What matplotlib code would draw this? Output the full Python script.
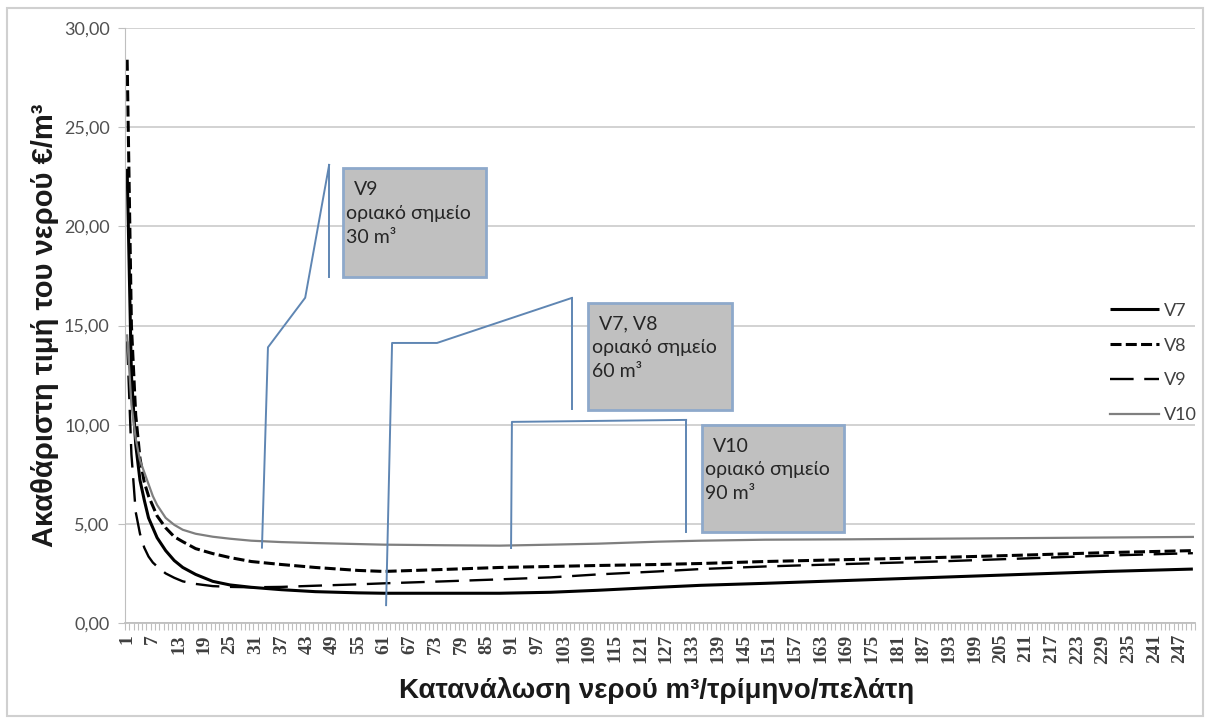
import numpy as np
import matplotlib.pyplot as plt
from matplotlib.patches import Rectangle

# sampled consumption (m3 / quarter / customer) and gross price (EUR/m3)
cons = [1, 2, 3, 4, 5, 6, 7, 8, 10, 12, 14, 17, 21, 25, 30, 37, 45, 55, 61,
        75, 88, 100, 111, 125, 135, 150, 170, 190, 210, 230, 250]
v7 = [22.9, 12.5, 9.0, 7.2, 6.2, 5.3, 4.8, 4.3, 3.65, 3.15, 2.8, 2.45, 2.1, 1.92, 1.8,
      1.68, 1.58, 1.52, 1.5, 1.5, 1.5, 1.55, 1.65, 1.8, 1.9, 2.0, 2.15, 2.3, 2.45, 2.6, 2.72]
v8 = [28.4, 15.0, 10.5, 8.3, 7.1, 6.4, 5.9, 5.4, 4.8, 4.35, 4.1, 3.75, 3.5, 3.3, 3.1,
      2.95, 2.8, 2.65, 2.6, 2.7, 2.8, 2.85, 2.9, 2.95, 3.0, 3.1, 3.2, 3.3, 3.42, 3.55, 3.65]
v9 = [14.2, 8.5, 5.6, 4.5, 3.8, 3.35, 3.05, 2.85, 2.5, 2.28, 2.1, 1.97, 1.86, 1.82, 1.8,
      1.82, 1.88, 1.95, 2.0, 2.1, 2.2, 2.3, 2.45, 2.6, 2.72, 2.85, 2.98, 3.1, 3.25, 3.4, 3.52]
v10 = [14.5, 11.0, 9.3, 8.2, 7.6, 7.0, 6.4, 5.95, 5.3, 4.95, 4.7, 4.5, 4.35, 4.25, 4.15,
       4.08, 4.03, 3.98, 3.95, 3.92, 3.9, 3.95, 4.0, 4.1, 4.15, 4.2, 4.22, 4.25, 4.28, 4.31, 4.34]

n_cat = 250
xticks = list(range(1, n_cat, 6))
yticks = [0, 5, 10, 15, 20, 25, 30]

# callouts: box (x0, x1, y0, y1), bar (x, y0, y1), leader line, text
callouts = [
    dict(box=(51.4, 84.8, 17.45, 22.95), bar=(48.2, 17.45, 23.1),
         line=([48.2, 42.6, 33.9, 32.5], [23.1, 16.4, 13.9, 3.8]),
         title="V9", val="30 m³"),
    dict(box=(108.7, 142.3, 10.74, 16.14), bar=(104.9, 10.79, 16.39),
         line=([104.9, 73.4, 62.9, 61.5], [16.39, 14.12, 14.12, 0.9]),
         title="V7, V8", val="60 m³"),
    dict(box=(135.3, 168.5, 4.59, 9.98), bar=(131.6, 4.59, 10.24),
         line=([131.6, 90.9, 90.7], [10.24, 10.14, 3.78]),
         title="V10", val="90 m³"),
]

fig = plt.figure(figsize=(12.06, 7.18), dpi=100)
ax = fig.add_axes([125 / 1206, 95 / 718, 1070 / 1206, 595 / 718])

ax.plot(cons, v7, color='black', lw=2.2, label='V7', solid_capstyle='butt')
ax.plot(cons, v8, color='black', lw=2.2, dashes=(3.6, 1.4), label='V8')
ax.plot(cons, v9, color='black', lw=1.7, dashes=(10, 4.5), label='V9')
ax.plot(cons, v10, color='#7f7f7f', lw=1.6, label='V10')

ax.set_xlim(0.5, n_cat + 0.5)
ax.set_ylim(0, 30)
ax.set_yticks(yticks)
ax.set_yticklabels([f"{v:.2f}".replace('.', ',') for v in yticks],
                   family=['Lato', 'DejaVu Sans'], fontsize=13, color='#505050')
ax.set_xticks(xticks)
ax.set_xticklabels([str(v) for v in xticks], rotation=90,
                   family=['Liberation Serif', 'DejaVu Serif'], fontsize=14,
                   color='#404040', fontweight='bold')
ax.set_xticks(np.arange(0.5, n_cat + 1, 1), minor=True)
ax.tick_params(axis='x', which='major', length=0, pad=8)
ax.tick_params(axis='x', which='minor', length=5, color='#bfbfbf', width=0.8)
ax.tick_params(axis='y', length=5, color='#bfbfbf', pad=6)

ax.grid(axis='y', color='#cfcfcf', lw=1.3)
ax.set_axisbelow(True)
for s in ['top', 'right']:
    ax.spines[s].set_visible(False)
ax.spines['left'].set_color('#bfbfbf')
ax.spines['bottom'].set_color('#bfbfbf')
ax.spines['bottom'].set_linewidth(1.3)

for c in callouts:
    x0, x1, y0, y1 = c['box']
    ax.add_patch(Rectangle((x0, y0), x1 - x0, y1 - y0, facecolor='#c0c0c0',
                           edgecolor='#8ea9cb', lw=2, zorder=5, clip_on=False))
    bx, by0, by1 = c['bar']
    ax.plot([bx, bx], [by0, by1], color='#5f86b3', lw=1.4, zorder=5)
    ax.plot(c['line'][0], c['line'][1], color='#5f86b3', lw=1.4, zorder=5)
    h = y1 - y0
    tf = dict(family=['Lato', 'Noto Sans', 'DejaVu Sans'], fontsize=14,
              color='#262626', va='center', zorder=6)
    ax.text(x0 + 2.6, y1 - 0.2 * h, c['title'], **tf)
    ax.text(x0 + 0.8, y1 - 0.42 * h, "οριακό σημείο", **tf)
    ax.text(x0 + 0.8, y1 - 0.64 * h, c['val'], **tf)

ax.legend(loc='center left', bbox_to_anchor=(1094 / 1206, 1 - 363 / 718),
          bbox_transform=fig.transFigure, frameon=False, handlelength=2.7,
          handletextpad=0.25, labelspacing=1.05,
          prop=dict(family=['Lato', 'DejaVu Sans'], size=13))
for t in ax.get_legend().get_texts():
    t.set_color('#404040')

fig.text(45 / 1206, 1 - 325 / 718, "Ακαθάριστη τιμή του νερού €/m³", rotation=90,
         ha='center', va='center', fontsize=21, fontweight='bold',
         family=['Liberation Sans', 'DejaVu Sans'], color='#1a1a1a')
fig.text(657 / 1206, 1 - 690 / 718, "Κατανάλωση νερού m³/τρίμηνο/πελάτη",
         ha='center', va='center', fontsize=20, fontweight='bold',
         family=['Liberation Sans', 'DejaVu Sans'], color='#1a1a1a')

fig.patches.append(Rectangle((7 / 1206, 2 / 718), 1196 / 1206, 708 / 718,
                             transform=fig.transFigure, fill=False,
                             edgecolor='#d0d0d0', lw=1.5))

fig.savefig('out.png', dpi=100)
